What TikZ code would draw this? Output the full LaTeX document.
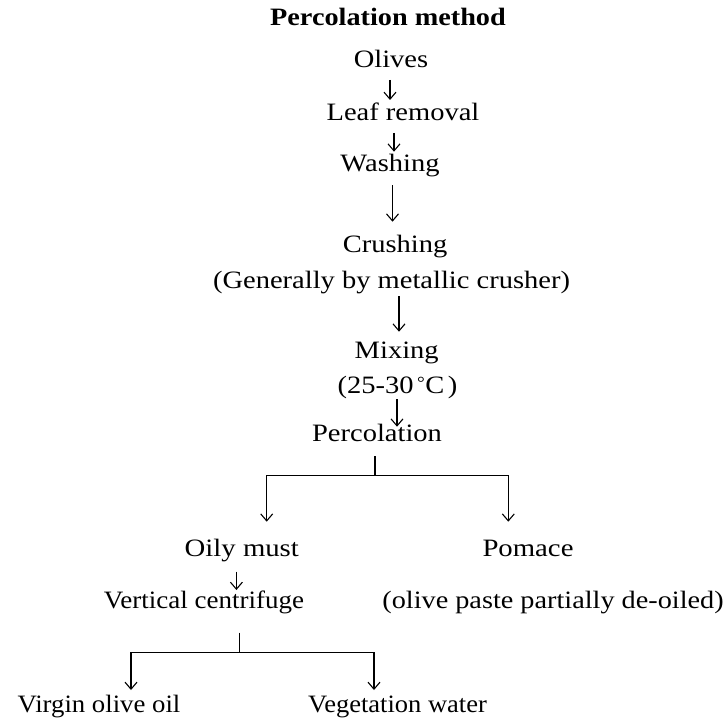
\documentclass[tikz,border=0pt]{standalone}
\usepackage{fontspec}
\usepackage{graphicx}
\setmainfont{Liberation Serif}
\usetikzlibrary{arrows.meta}
\newcommand{\hs}[2]{\scalebox{#1}[1]{#2}}
\newcommand{\degc}{\hspace{3pt}\raisebox{4.5pt}{\fontsize{17}{20}\selectfont °}\hspace{0.5pt}C\hspace{3pt}}
\begin{document}
\begin{tikzpicture}[x=1pt,y=-1pt,
  txt/.style={anchor=base, inner sep=0pt, font=\fontsize{25}{30}\selectfont},
  arr/.style={draw, line width=1.1pt, -{Straight Barb[length=7pt,width=12pt,line width=1.1pt]}},
  ln/.style={draw, line width=1.1pt}]
\useasboundingbox[fill=white] (0,0) rectangle (727,722);
% nodes
\node[txt] (title) at (388,26) {\hs{1.13}{\textbf{Percolation method}}};
\node[txt] (olives) at (391,68) {\hs{1.14}{Olives}};
\node[txt] (leaf) at (403,120.7) {\hs{1.14}{Leaf removal}};
\node[txt] (wash) at (390,171.7) {\hs{1.14}{Washing}};
\node[txt] (crush) at (395,252.7) {\hs{1.14}{Crushing}};
\node[txt] (gen) at (391.5,288.3) {\hs{1.14}{(Generally by metallic crusher)}};
\node[txt] (mix) at (396.7,358) {\hs{1.14}{Mixing}};
\node[txt] (temp) at (397.5,393) {\hs{1.14}{(25-30\degc)}};
\node[txt] (perc) at (377,441.7) {\hs{1.14}{Percolation}};
\node[txt] (oily) at (241.8,556.7) {\hs{1.15}{Oily must}};
\node[txt] (pomace) at (528,556.7) {\hs{1.15}{Pomace}};
\node[txt] (vert) at (204,608.3) {\hs{1.08}{Vertical centrifuge}};
\node[txt] (paste) at (553,608.3) {\hs{1.13}{(olive paste partially de-oiled)}};
\node[txt] (virgin) at (99,712.7) {\hs{1.07}{Virgin olive oil}};
\node[txt] (veg) at (397.5,712.7) {\hs{1.06}{Vegetation water}};
% junction coordinates
\coordinate (pj) at (375,475.7);
\coordinate (oilytip) at (266.7,521.7);
\coordinate (pomtip) at (508.3,521.7);
\coordinate (vj) at (239.3,652.3);
\coordinate (virtip) at (131,690);
\coordinate (vegtip) at (374,690);
% straight arrows
\draw[arr] (olives.base) ++(-1,12) -- ++(0,20);
\draw[arr] (leaf.base) ++(-9,12.3) -- ++(0,18.7);
\draw[arr] (wash.base) ++(2.5,13.3) -- ++(0,36.7);
\draw[arr] (gen.base) ++(7.5,7.7) -- ++(0,35.7);
\draw[arr] (temp.base) ++(-0.5,6) -- ++(0,27.7);
\draw[arr] (oily.base) ++(-5.4,15) -- ++(0,18.3);
% branches
\draw[ln] (perc.base) ++(-2,14.3) -- (pj);
\draw[arr] (pj) -| (oilytip);
\draw[arr] (pj) -| (pomtip);
\draw[ln] (vert.base) ++(35.3,24.4) -- (vj);
\draw[arr] (vj) -| (virtip);
\draw[arr] (vj) -| (vegtip);
\end{tikzpicture}
\end{document}
